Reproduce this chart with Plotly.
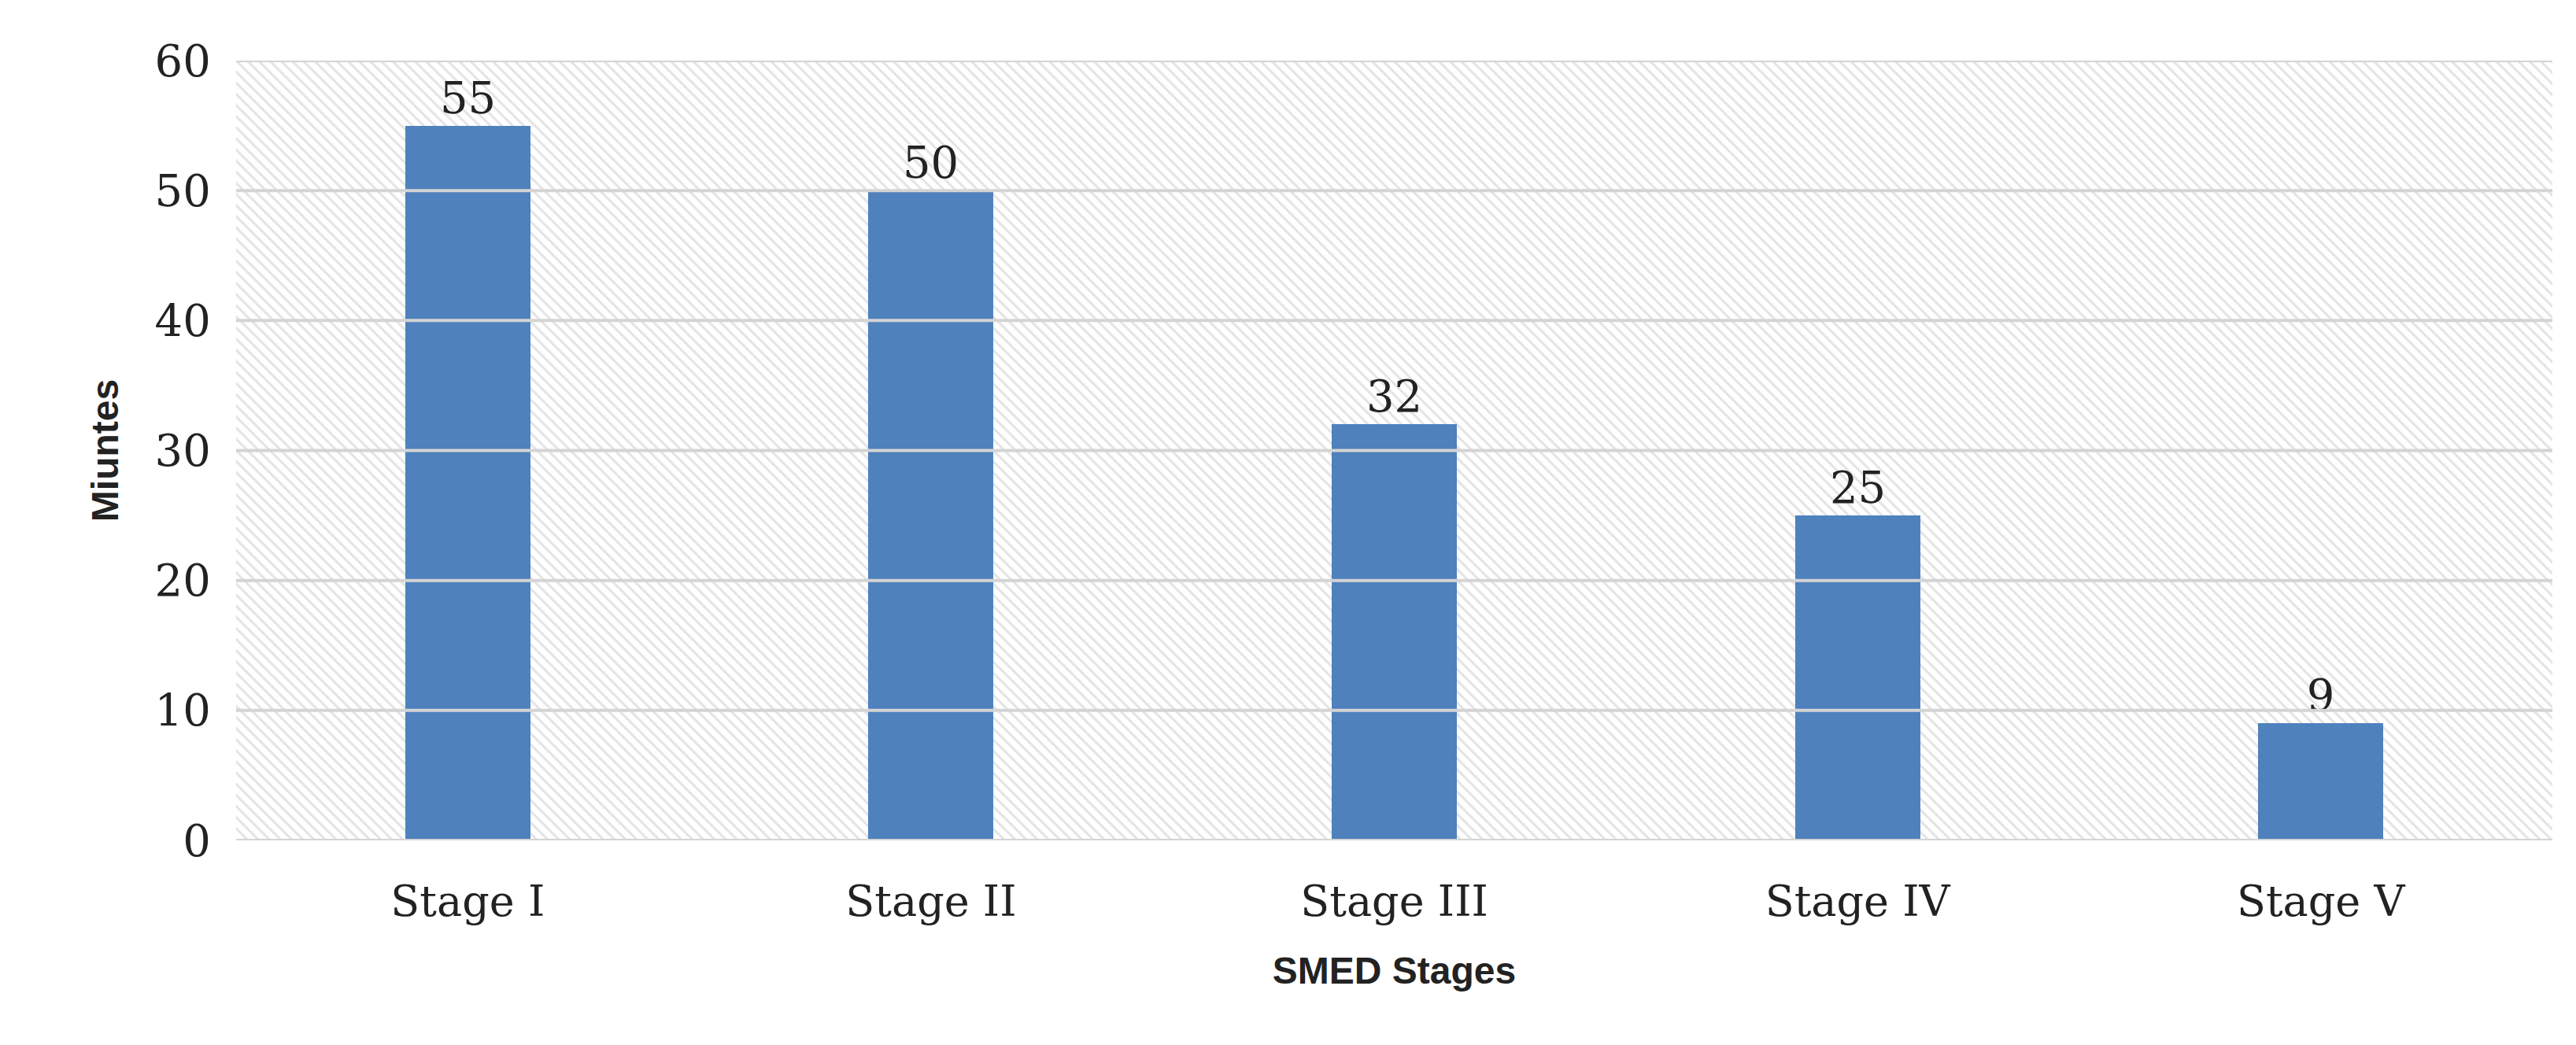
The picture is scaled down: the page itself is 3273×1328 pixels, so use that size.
import plotly.graph_objects as go

stages = ["Stage I", "Stage II", "Stage III", "Stage IV", "Stage V"]
minutes = [55, 50, 32, 25, 9]
y_ticks = [0, 10, 20, 30, 40, 50, 60]
positions = list(range(len(stages)))

fig = go.Figure()
# hatched plot-area background
fig.add_trace(go.Bar(x=[(positions[0] + positions[-1]) / 2], y=[y_ticks[-1]], width=[len(stages)],
                     marker=dict(color="white", line=dict(width=0),
                                 pattern=dict(shape="\\", fgcolor="#c8c8c8", bgcolor="white",
                                              size=10, solidity=0.3)),
                     hoverinfo="skip", showlegend=False))
# gridlines drawn between the hatching and the bars
gx, gy = [], []
for t in y_ticks:
    gx += [positions[0] - 0.5, positions[-1] + 0.5, None]
    gy += [t, t, None]
fig.add_trace(go.Scatter(x=gx, y=gy, mode="lines", line=dict(color="#d4d4d4", width=4),
                         hoverinfo="skip", showlegend=False))
fig.add_trace(go.Bar(x=positions, y=minutes, marker=dict(color="#4f81bd", line=dict(width=0)), width=0.27,
                     text=[str(v) for v in minutes], textposition="outside",
                     textfont=dict(family="DejaVu Serif", size=56, color="#222"),
                     cliponaxis=False, showlegend=False))

fig.update_layout(
    width=3273, height=1328, plot_bgcolor="white", paper_bgcolor="white",
    margin=dict(l=292, r=38, t=69, b=268),
    barmode="overlay", bargap=0,
    xaxis=dict(range=[positions[0] - 0.5, positions[-1] + 0.5], tickvals=positions, ticktext=stages,
               tickfont=dict(family="DejaVu Serif", size=54, color="#222"),
               ticks="outside", ticklen=30, tickcolor="rgba(0,0,0,0)",
               title=dict(text="<b>SMED Stages</b>", font=dict(family="Liberation Sans", size=48, color="#222"), standoff=40),
               showgrid=False, zeroline=False),
    yaxis=dict(range=[0, 60], tickvals=y_ticks, tickfont=dict(family="DejaVu Serif", size=56, color="#222"),
               ticks="outside", ticklen=20, tickcolor="rgba(0,0,0,0)",
               title=dict(text="<b>Miuntes</b>", font=dict(family="Liberation Sans", size=48, color="#222"), standoff=30),
               showgrid=False, zeroline=False),
)
fig.write_html("out.html")
